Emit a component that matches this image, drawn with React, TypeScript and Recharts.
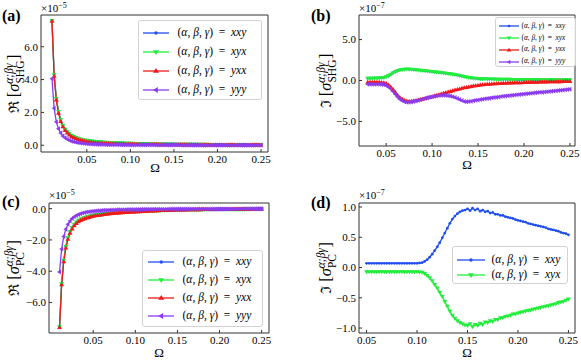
import React from 'react';
import { LineChart, Line, XAxis, YAxis, ReferenceArea } from 'recharts';

// Omega grids
const OMEGA_AC = [
  0.01, 0.0125, 0.015, 0.0175, 0.02, 0.0225, 0.025, 0.0275, 0.03, 0.0325,
  0.035, 0.0375, 0.04, 0.0425, 0.045, 0.0475, 0.05, 0.0525, 0.055, 0.0575,
  0.06, 0.0625, 0.065, 0.0675, 0.07, 0.0725, 0.075, 0.0775, 0.08, 0.0825,
  0.085, 0.0875, 0.09, 0.0925, 0.095, 0.0975, 0.1, 0.1025, 0.105, 0.1075,
  0.11, 0.1125, 0.115, 0.1175, 0.12, 0.1225, 0.125, 0.1275, 0.13, 0.1325,
  0.135, 0.1375, 0.14, 0.1425, 0.145, 0.1475, 0.15, 0.1525, 0.155, 0.1575,
  0.16, 0.1625, 0.165, 0.1675, 0.17, 0.1725, 0.175, 0.1775, 0.18, 0.1825,
  0.185, 0.1875, 0.19, 0.1925, 0.195, 0.1975, 0.2, 0.2025, 0.205, 0.2075,
  0.21, 0.2125, 0.215, 0.2175, 0.22, 0.2225, 0.225, 0.2275, 0.23, 0.2325,
  0.235, 0.2375, 0.24, 0.2425, 0.245, 0.2475, 0.25,
];
const OMEGA_B = [
  0.03, 0.0325, 0.035, 0.0375, 0.04, 0.0425, 0.045, 0.0475, 0.05, 0.0525,
  0.055, 0.0575, 0.06, 0.0625, 0.065, 0.0675, 0.07, 0.0725, 0.075, 0.0775,
  0.08, 0.0825, 0.085, 0.0875, 0.09, 0.0925, 0.095, 0.0975, 0.1, 0.1025,
  0.105, 0.1075, 0.11, 0.1125, 0.115, 0.1175, 0.12, 0.1225, 0.125, 0.1275,
  0.13, 0.1325, 0.135, 0.1375, 0.14, 0.1425, 0.145, 0.1475, 0.15, 0.1525,
  0.155, 0.1575, 0.16, 0.1625, 0.165, 0.1675, 0.17, 0.1725, 0.175, 0.1775,
  0.18, 0.1825, 0.185, 0.1875, 0.19, 0.1925, 0.195, 0.1975, 0.2, 0.2025,
  0.205, 0.2075, 0.21, 0.2125, 0.215, 0.2175, 0.22, 0.2225, 0.225, 0.2275,
  0.23, 0.2325, 0.235, 0.2375, 0.24, 0.2425, 0.245, 0.2475, 0.25,
];
const OMEGA_D = [
  0.05, 0.0525, 0.055, 0.0575, 0.06, 0.0625, 0.065, 0.0675, 0.07, 0.0725,
  0.075, 0.0775, 0.08, 0.0825, 0.085, 0.0875, 0.09, 0.0925, 0.095, 0.0975,
  0.1, 0.1025, 0.105, 0.1075, 0.11, 0.1125, 0.115, 0.1175, 0.12, 0.1225,
  0.125, 0.1275, 0.13, 0.1325, 0.135, 0.1375, 0.14, 0.1425, 0.145, 0.1475,
  0.15, 0.1525, 0.155, 0.1575, 0.16, 0.1625, 0.165, 0.1675, 0.17, 0.1725,
  0.175, 0.1775, 0.18, 0.1825, 0.185, 0.1875, 0.19, 0.1925, 0.195, 0.1975,
  0.2, 0.2025, 0.205, 0.2075, 0.21, 0.2125, 0.215, 0.2175, 0.22, 0.2225,
  0.225, 0.2275, 0.23, 0.2325, 0.235, 0.2375, 0.24, 0.2425, 0.245, 0.2475,
  0.25,
];

// (a) Re sigma SHG, units 1e-5
const SHG_RE_XYX = [
  7.6, 4.3, 2.85, 2.05, 1.55, 1.21, 0.98, 0.82, 0.7, 0.6,
  0.53, 0.47, 0.42, 0.38, 0.35, 0.32, 0.3, 0.28, 0.26, 0.245,
  0.23, 0.22, 0.21, 0.2, 0.19, 0.18, 0.175, 0.168, 0.162, 0.156,
  0.15, 0.145, 0.14, 0.135, 0.13, 0.126, 0.122, 0.118, 0.114, 0.11,
  0.107, 0.104, 0.101, 0.098, 0.095, 0.092, 0.09, 0.088, 0.086, 0.084,
  0.082, 0.08, 0.078, 0.076, 0.074, 0.072, 0.07, 0.069, 0.068, 0.067,
  0.066, 0.065, 0.064, 0.063, 0.062, 0.061, 0.06, 0.059, 0.058, 0.057,
  0.056, 0.055, 0.054, 0.053, 0.052, 0.051, 0.05, 0.05, 0.049, 0.049,
  0.048, 0.048, 0.047, 0.047, 0.046, 0.046, 0.045, 0.045, 0.044, 0.044,
  0.043, 0.043, 0.042, 0.042, 0.041, 0.041, 0.04,
];
const SHG_RE_XXY = SHG_RE_XYX;
const SHG_RE_YXX = [
  7.55, 4.2, 2.75, 1.95, 1.45, 1.12, 0.9, 0.74, 0.62, 0.52,
  0.45, 0.39, 0.34, 0.3, 0.27, 0.24, 0.22, 0.2, 0.18, 0.165,
  0.152, 0.14, 0.13, 0.122, 0.115, 0.108, 0.102, 0.096, 0.091, 0.086,
  0.082, 0.078, 0.074, 0.071, 0.068, 0.065, 0.062, 0.06, 0.057, 0.055,
  0.053, 0.051, 0.049, 0.047, 0.045, 0.044, 0.042, 0.041, 0.04, 0.038,
  0.037, 0.036, 0.035, 0.034, 0.033, 0.032, 0.031, 0.03, 0.029, 0.029,
  0.028, 0.027, 0.027, 0.026, 0.025, 0.025, 0.024, 0.024, 0.023, 0.023,
  0.022, 0.022, 0.021, 0.021, 0.02, 0.02, 0.02, 0.019, 0.019, 0.019,
  0.018, 0.018, 0.018, 0.017, 0.017, 0.017, 0.016, 0.016, 0.016, 0.016,
  0.015, 0.015, 0.015, 0.015, 0.014, 0.014, 0.014,
];
const SHG_RE_YYY = [
  4.05, 2.25, 1.42, 1.0, 0.74, 0.57, 0.45, 0.36, 0.3, 0.25,
  0.21, 0.18, 0.155, 0.135, 0.118, 0.104, 0.092, 0.082, 0.073, 0.066,
  0.06, 0.054, 0.049, 0.045, 0.041, 0.038, 0.035, 0.032, 0.03, 0.028,
  0.026, 0.024, 0.022, 0.021, 0.02, 0.019, 0.018, 0.017, 0.016, 0.015,
  0.014, 0.014, 0.013, 0.012, 0.012, 0.011, 0.011, 0.01, 0.01, 0.01,
  0.009, 0.009, 0.009, 0.009, 0.009, 0.009, 0.009, 0.009, 0.009, 0.009,
  0.008, 0.008, 0.008, 0.008, 0.008, 0.008, 0.008, 0.008, 0.008, 0.008,
  0.007, 0.007, 0.007, 0.007, 0.007, 0.007, 0.007, 0.007, 0.007, 0.007,
  0.006, 0.006, 0.006, 0.006, 0.006, 0.006, 0.006, 0.006, 0.006, 0.006,
  0.005, 0.005, 0.005, 0.005, 0.005, 0.005, 0.005,
];

// (b) Im sigma SHG, units 1e-7
const SHG_IM_XYX = [
  0.28, 0.28, 0.29, 0.3, 0.3, 0.31, 0.33, 0.37, 0.45, 0.58,
  0.75, 0.93, 1.08, 1.2, 1.29, 1.35, 1.38, 1.39, 1.38, 1.36,
  1.33, 1.3, 1.27, 1.24, 1.21, 1.18, 1.15, 1.12, 1.09, 1.06,
  1.03, 1.0, 0.97, 0.93, 0.9, 0.86, 0.82, 0.77, 0.72, 0.66,
  0.6, 0.54, 0.48, 0.42, 0.37, 0.33, 0.29, 0.26, 0.24, 0.22,
  0.21, 0.2, 0.19, 0.18, 0.17, 0.17, 0.16, 0.16, 0.15, 0.15,
  0.14, 0.14, 0.14, 0.13, 0.13, 0.13, 0.12, 0.12, 0.12, 0.12,
  0.11, 0.11, 0.11, 0.11, 0.1, 0.1, 0.1, 0.1, 0.1, 0.09,
  0.09, 0.09, 0.09, 0.09, 0.09, 0.08, 0.08, 0.08, 0.08,
];
const SHG_IM_XXY = SHG_IM_XYX;
const SHG_IM_YXX = [
  -0.2, -0.2, -0.2, -0.2, -0.2, -0.21, -0.23, -0.28, -0.38, -0.55,
  -0.8, -1.1, -1.45, -1.8, -2.08, -2.3, -2.44, -2.52, -2.55, -2.54,
  -2.5, -2.45, -2.39, -2.33, -2.26, -2.19, -2.12, -2.05, -1.97, -1.89,
  -1.81, -1.73, -1.65, -1.57, -1.49, -1.41, -1.33, -1.25, -1.17, -1.1,
  -1.03, -0.96, -0.9, -0.84, -0.78, -0.73, -0.68, -0.64, -0.6, -0.56,
  -0.53, -0.5, -0.47, -0.45, -0.43, -0.41, -0.39, -0.37, -0.36, -0.34,
  -0.33, -0.32, -0.31, -0.3, -0.29, -0.28, -0.27, -0.26, -0.25, -0.24,
  -0.23, -0.22, -0.21, -0.21, -0.2, -0.19, -0.18, -0.18, -0.17, -0.16,
  -0.16, -0.15, -0.15, -0.14, -0.14, -0.13, -0.13, -0.12, -0.12,
];
const SHG_IM_YYY = [
  -0.47, -0.46, -0.45, -0.45, -0.45, -0.46, -0.48, -0.53, -0.62, -0.78,
  -1.02, -1.33, -1.68, -2.0, -2.28, -2.48, -2.6, -2.66, -2.67, -2.64,
  -2.58, -2.5, -2.42, -2.34, -2.26, -2.18, -2.11, -2.04, -1.98, -1.93,
  -1.88, -1.84, -1.82, -1.81, -1.82, -1.85, -1.9, -1.98, -2.08, -2.2,
  -2.33, -2.45, -2.55, -2.6, -2.58, -2.53, -2.47, -2.42, -2.37, -2.32,
  -2.28, -2.24, -2.2, -2.16, -2.12, -2.08, -2.04, -2.0, -1.96, -1.93,
  -1.9, -1.87, -1.84, -1.81, -1.78, -1.75, -1.72, -1.69, -1.66, -1.63,
  -1.6, -1.57, -1.54, -1.51, -1.48, -1.45, -1.42, -1.39, -1.36, -1.33,
  -1.3, -1.27, -1.24, -1.21, -1.18, -1.15, -1.12, -1.09, -1.06,
];

// (c) Re sigma PC, units 1e-5
const PC_RE_XYX = [
  -7.55, -4.8, -3.3, -2.42, -1.85, -1.47, -1.2, -1.0, -0.86, -0.75,
  -0.67, -0.61, -0.56, -0.52, -0.48, -0.45, -0.42, -0.4, -0.38, -0.36,
  -0.34, -0.32, -0.31, -0.295, -0.28, -0.27, -0.26, -0.25, -0.24, -0.23,
  -0.22, -0.21, -0.2, -0.195, -0.19, -0.18, -0.175, -0.17, -0.165, -0.16,
  -0.155, -0.15, -0.145, -0.14, -0.135, -0.13, -0.125, -0.12, -0.115, -0.11,
  -0.105, -0.1, -0.097, -0.094, -0.091, -0.088, -0.085, -0.082, -0.08, -0.077,
  -0.075, -0.072, -0.07, -0.068, -0.066, -0.064, -0.062, -0.06, -0.058, -0.056,
  -0.055, -0.053, -0.052, -0.05, -0.049, -0.048, -0.046, -0.045, -0.044, -0.043,
  -0.042, -0.041, -0.04, -0.039, -0.038, -0.037, -0.036, -0.035, -0.034, -0.033,
  -0.032, -0.031, -0.03, -0.03, -0.029, -0.028, -0.028,
];
const PC_RE_XXY = PC_RE_XYX;
const PC_RE_YXX = [
  -7.6, -4.87, -3.39, -2.52, -1.95, -1.57, -1.3, -1.1, -0.95, -0.84,
  -0.76, -0.7, -0.64, -0.6, -0.56, -0.52, -0.49, -0.46, -0.44, -0.42,
  -0.4, -0.38, -0.36, -0.345, -0.33, -0.315, -0.3, -0.29, -0.28, -0.27,
  -0.26, -0.25, -0.24, -0.23, -0.22, -0.215, -0.21, -0.2, -0.195, -0.19,
  -0.175, -0.17, -0.16, -0.155, -0.15, -0.145, -0.14, -0.13, -0.125, -0.12,
  -0.115, -0.11, -0.105, -0.1, -0.097, -0.094, -0.091, -0.088, -0.085, -0.082,
  -0.08, -0.077, -0.075, -0.072, -0.07, -0.068, -0.066, -0.064, -0.062, -0.06,
  -0.058, -0.056, -0.055, -0.053, -0.052, -0.05, -0.049, -0.048, -0.046, -0.045,
  -0.044, -0.043, -0.042, -0.041, -0.04, -0.039, -0.038, -0.037, -0.036, -0.035,
  -0.034, -0.033, -0.032, -0.031, -0.03, -0.03, -0.029,
];
const PC_RE_YYY = [
  -4.05, -2.58, -1.78, -1.32, -1.0, -0.79, -0.63, -0.52, -0.44, -0.37,
  -0.32, -0.28, -0.25, -0.22, -0.2, -0.18, -0.165, -0.15, -0.14, -0.13,
  -0.12, -0.11, -0.104, -0.098, -0.092, -0.087, -0.082, -0.078, -0.074, -0.07,
  -0.067, -0.064, -0.061, -0.058, -0.056, -0.054, -0.052, -0.05, -0.048, -0.046,
  -0.045, -0.043, -0.042, -0.04, -0.039, -0.038, -0.037, -0.036, -0.035, -0.034,
  -0.033, -0.032, -0.031, -0.03, -0.03, -0.029, -0.028, -0.028, -0.027, -0.026,
  -0.026, -0.025, -0.025, -0.024, -0.024, -0.023, -0.023, -0.022, -0.022, -0.021,
  -0.021, -0.02, -0.02, -0.02, -0.019, -0.019, -0.019, -0.018, -0.018, -0.018,
  -0.017, -0.017, -0.017, -0.016, -0.016, -0.016, -0.016, -0.015, -0.015, -0.015,
  -0.015, -0.014, -0.014, -0.014, -0.014, -0.013, -0.013,
];

// (d) Im sigma PC, units 1e-7
const PC_IM_XXY = [
  0.07, 0.07, 0.07, 0.07, 0.07, 0.07, 0.07, 0.07, 0.07, 0.07,
  0.07, 0.07, 0.07, 0.07, 0.07, 0.07, 0.07, 0.07, 0.07, 0.07,
  0.07, 0.075, 0.08, 0.1, 0.13, 0.17, 0.22, 0.28, 0.34, 0.41,
  0.49, 0.57, 0.65, 0.73, 0.8, 0.85, 0.89, 0.92, 0.94, 0.95,
  0.97, 0.94, 0.98, 0.95, 0.97, 0.93, 0.95, 0.92, 0.93, 0.9,
  0.91, 0.88, 0.88, 0.86, 0.86, 0.84, 0.83, 0.82, 0.81, 0.79,
  0.78, 0.77, 0.76, 0.75, 0.73, 0.72, 0.71, 0.7, 0.69, 0.68,
  0.67, 0.66, 0.64, 0.63, 0.62, 0.61, 0.6, 0.58, 0.57, 0.56,
  0.54,
];
const PC_IM_XYX = [
  -0.07, -0.07, -0.07, -0.07, -0.07, -0.07, -0.07, -0.07, -0.07, -0.07,
  -0.07, -0.07, -0.07, -0.07, -0.07, -0.07, -0.07, -0.07, -0.07, -0.07,
  -0.07, -0.075, -0.08, -0.1, -0.13, -0.17, -0.22, -0.28, -0.34, -0.41,
  -0.48, -0.56, -0.64, -0.72, -0.79, -0.84, -0.88, -0.91, -0.93, -0.95,
  -0.96, -0.93, -0.98, -0.94, -0.96, -0.92, -0.94, -0.9, -0.91, -0.88,
  -0.89, -0.86, -0.86, -0.83, -0.83, -0.81, -0.8, -0.79, -0.77, -0.77,
  -0.75, -0.74, -0.73, -0.72, -0.71, -0.7, -0.69, -0.68, -0.67, -0.66,
  -0.65, -0.64, -0.63, -0.62, -0.61, -0.6, -0.58, -0.57, -0.56, -0.54,
  -0.52,
];

const X_TICKS = [0.05, 0.1, 0.15, 0.2, 0.25];
const Y_TICKS_A = [0, 2, 4, 6];
const Y_TICKS_B = [-5, 0, 5];
const Y_TICKS_C = [-6, -4, -2, 0];
const Y_TICKS_D = [-1, -0.5, 0, 0.5, 1];

const BLUE = '#1f4df2';
const GREEN = '#22ee3c';
const RED = '#ee1a1a';
const PURPLE = '#8b3cf0';
const FONT = "'Liberation Serif', 'DejaVu Serif', serif";

type Shape = 'point' | 'down' | 'up' | 'left';
interface SeriesDef { key: string; label: string; color: string; shape: Shape; }

const SERIES: SeriesDef[] = [
  { key: 'xxy', label: 'xxy', color: BLUE, shape: 'point' },
  { key: 'xyx', label: 'xyx', color: GREEN, shape: 'down' },
  { key: 'yxx', label: 'yxx', color: RED, shape: 'up' },
  { key: 'yyy', label: 'yyy', color: PURPLE, shape: 'left' },
];

const dataA = OMEGA_AC.map((w, i) => ({ w, xxy: SHG_RE_XXY[i], xyx: SHG_RE_XYX[i], yxx: SHG_RE_YXX[i], yyy: SHG_RE_YYY[i] }));
const dataB = OMEGA_B.map((w, i) => ({ w, xxy: SHG_IM_XXY[i], xyx: SHG_IM_XYX[i], yxx: SHG_IM_YXX[i], yyy: SHG_IM_YYY[i] }));
const dataC = OMEGA_AC.map((w, i) => ({ w, xxy: PC_RE_XXY[i], xyx: PC_RE_XYX[i], yxx: PC_RE_YXX[i], yyy: PC_RE_YYY[i] }));
const dataD = OMEGA_D.map((w, i) => ({ w, xxy: PC_IM_XXY[i], xyx: PC_IM_XYX[i] }));

function marker(shape: Shape, cx: number, cy: number, r: number, color: string, key?: React.Key) {
  if (shape === 'point') return <circle key={key} cx={cx} cy={cy} r={r * 0.55} fill={color} />;
  let d = '';
  if (shape === 'down') d = `M${cx - r},${cy - r * 0.6}L${cx + r},${cy - r * 0.6}L${cx},${cy + r}Z`;
  if (shape === 'up') d = `M${cx - r},${cy + r * 0.6}L${cx + r},${cy + r * 0.6}L${cx},${cy - r}Z`;
  if (shape === 'left') d = `M${cx + r * 0.6},${cy - r}L${cx + r * 0.6},${cy + r}L${cx - r},${cy}Z`;
  return <path key={key} d={d} fill={color} />;
}

const makeDot = (shape: Shape, color: string) => (p: any) => {
  if (p.cx == null || p.cy == null) return <g key={p.index} />;
  return marker(shape, p.cx, p.cy, 2.5, color, p.index);
};

const fmtX = (v: number) => v.toFixed(2);
const fmtY = (v: number) => (v < 0 ? '\u2212' : '') + Math.abs(v).toFixed(1);
const tickStyle = { fontSize: 11, fill: '#000', fontFamily: FONT };

interface PanelProps {
  left: number; top: number; width: number; height: number;
  yWidth: number; xHeight: number; mTop: number; mRight: number;
  data: any[]; series: SeriesDef[];
  xDomain: [number, number]; yDomain: [number, number]; yTicks: number[];
}

const Panel = (p: PanelProps) => (
  <div style={{ position: 'absolute', left: p.left, top: p.top }}>
    <LineChart width={p.width} height={p.height} data={p.data}
      margin={{ top: p.mTop, right: p.mRight, bottom: 0, left: 0 }}>
      <XAxis dataKey="w" type="number" domain={p.xDomain} ticks={X_TICKS} allowDataOverflow
        interval={0} tickFormatter={fmtX} tick={tickStyle} height={p.xHeight}
        axisLine={false} tickSize={-3} tickMargin={6} tickLine={{ stroke: '#333' }} />
      <YAxis type="number" domain={p.yDomain} ticks={p.yTicks} allowDataOverflow
        interval={0} tickFormatter={fmtY} tick={tickStyle} width={p.yWidth}
        axisLine={false} tickSize={-3} tickMargin={6} tickLine={{ stroke: '#333' }} />
      {p.series.map((s) => (
        <Line key={s.key} type="linear" dataKey={s.key} stroke={s.color} strokeWidth={1.3}
          dot={makeDot(s.shape, s.color)} activeDot={false} isAnimationActive={false} />
      ))}
      <ReferenceArea x1={p.xDomain[0]} x2={p.xDomain[1]} y1={p.yDomain[0]} y2={p.yDomain[1]}
        fill="none" stroke="#333" strokeWidth={1} ifOverflow="visible" />
    </LineChart>
  </div>
);

interface LegendProps {
  left: number; top: number; width: number; height: number;
  rows: number[]; sample: [number, number]; textX: number; fontSize: number; r: number;
  series: SeriesDef[];
}

const LegendBox = (p: LegendProps) => (
  <div style={{
    position: 'absolute', left: p.left, top: p.top, width: p.width, height: p.height,
    border: '1px solid #d2d2d2', borderRadius: 3, background: 'rgba(255,255,255,0.9)',
    boxSizing: 'border-box', fontFamily: FONT, fontSize: p.fontSize, color: '#000',
  }}>
    {p.series.map((s, i) => (
      <React.Fragment key={s.key}>
        <svg width={p.sample[1] - p.sample[0]} height={10}
          style={{ position: 'absolute', left: p.sample[0], top: p.rows[i] - 5 }}>
          <line x1={0} y1={5} x2={p.sample[1] - p.sample[0]} y2={5} stroke={s.color} strokeWidth={1.3} />
          {marker(s.shape, (p.sample[1] - p.sample[0]) / 2, 5, p.r, s.color)}
        </svg>
        <div style={{ position: 'absolute', left: p.textX, top: p.rows[i] - p.fontSize * 0.6, lineHeight: 1.1, whiteSpace: 'pre' }}>
          (<i>α</i>, <i>β</i>, <i>γ</i>)  =  <i>{s.label}</i>
        </div>
      </React.Fragment>
    ))}
  </div>
);

const YLabel = ({ x, y, head, sub, subW, supW }: { x: number; y: number; head: string; sub: string; subW: number; supW: number }) => (
  <text transform={`translate(${x},${y}) rotate(-90)`} textAnchor="middle" fontSize={16.5} fontFamily={FONT}>
    <tspan fontFamily="DejaVu Serif" fontSize={14.5}>{head}</tspan>
    <tspan> [</tspan>
    <tspan fontStyle="italic">σ</tspan>
    <tspan fontSize={11.5} dy={-6.5} fontStyle="italic">α;βγ</tspan>
    <tspan fontSize={11.5} dx={-supW} dy={11}>{sub}</tspan>
    <tspan dx={Math.max(0, supW - subW) + 0.5} dy={-4.5}>]</tspan>
  </text>
);

const Mult = ({ x, y, exp }: { x: number; y: number; exp: string }) => (
  <text x={x} y={y} fontSize={11} fontFamily={FONT}>
    ×10<tspan dy={-4} fontSize={8}>{exp}</tspan>
  </text>
);

const Overlay = () => (
  <svg width={581} height={360} style={{ position: 'absolute', left: 0, top: 0, pointerEvents: 'none' }}>
    <g fontFamily={FONT} fontSize={16} fontWeight="bold">
      <text x={2} y={21}>(a)</text>
      <text x={311} y={21}>(b)</text>
      <text x={2} y={207}>(c)</text>
      <text x={311} y={208}>(d)</text>
    </g>
    <Mult x={41} y={12} exp="−5" />
    <Mult x={359} y={12} exp="−7" />
    <Mult x={49} y={199} exp="−5" />
    <Mult x={359} y={199} exp="−7" />
    <g fontFamily={FONT} fontSize={13} textAnchor="middle">
      <text x={155} y={172}>Ω</text>
      <text x={467} y={169}>Ω</text>
      <text x={159} y={357}>Ω</text>
      <text x={467} y={357}>Ω</text>
    </g>
    <YLabel x={19} y={84} head="ℜ" sub="SHG" supW={20} subW={23} />
    <YLabel x={331} y={81} head="ℑ" sub="SHG" supW={20} subW={23} />
    <YLabel x={19} y={268} head="ℜ" sub="PC" supW={20} subW={14} />
    <YLabel x={331} y={268} head="ℑ" sub="PC" supW={20} subW={14} />
  </svg>
);

export default function App() {
  return (
    <div style={{ position: 'absolute', left: 0, top: 0, width: 581, height: 360, background: '#fff', overflow: 'hidden' }}>
      <Panel left={0} top={0} width={290} height={180} yWidth={41} xHeight={28} mTop={15} mRight={22}
        data={dataA} series={SERIES} xDomain={[-0.0026, 0.258]} yDomain={[-0.41, 7.93]} yTicks={Y_TICKS_A} />
      <Panel left={290} top={0} width={291} height={180} yWidth={69} xHeight={34} mTop={15} mRight={6}
        data={dataB} series={SERIES} xDomain={[0.0205, 0.2555]} yDomain={[-8, 8]} yTicks={Y_TICKS_B} />
      <Panel left={0} top={180} width={290} height={180} yWidth={49} xHeight={27} mTop={23} mRight={21}
        data={dataC} series={SERIES} xDomain={[-0.0025, 0.2587]} yDomain={[-7.95, 0.36]} yTicks={Y_TICKS_C} />
      <Panel left={290} top={180} width={291} height={180} yWidth={69} xHeight={27} mTop={23} mRight={6}
        data={dataD} series={SERIES.slice(0, 2)} xDomain={[0.0425, 0.2565]} yDomain={[-1.082, 1.066]} yTicks={Y_TICKS_D} />
      <LegendBox left={138} top={20} width={124} height={80} rows={[12, 31, 50, 69]} sample={[4, 30]}
        textX={38.5} fontSize={11.5} r={3} series={SERIES} />
      <LegendBox left={495} top={17} width={81} height={50} rows={[8, 20, 31.5, 43.5]} sample={[3, 23]}
        textX={25.5} fontSize={7.3} r={2.3} series={SERIES} />
      <LegendBox left={142} top={250} width={121} height={77} rows={[10.5, 28.5, 46.5, 65]} sample={[4.5, 31]}
        textX={39.5} fontSize={11.5} r={3} series={SERIES} />
      <LegendBox left={452} top={246} width={116} height={38} rows={[12.5, 27.5]} sample={[3.5, 31.5]}
        textX={38.5} fontSize={11.5} r={3} series={SERIES.slice(0, 2)} />
      <Overlay />
    </div>
  );
}
